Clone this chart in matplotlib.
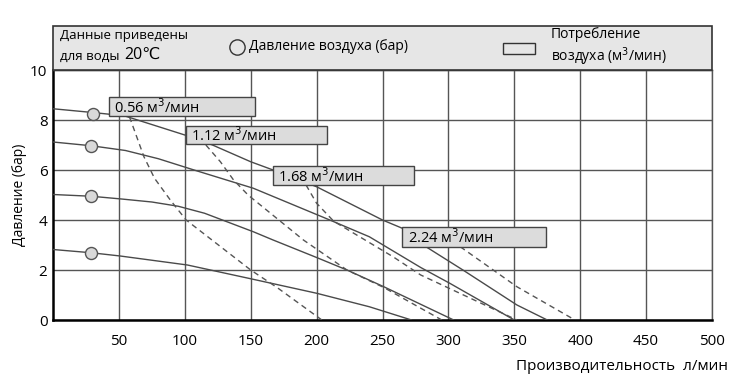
import numpy as np
import matplotlib
matplotlib.use("Agg")
import matplotlib.pyplot as plt
from matplotlib.patches import Rectangle
from matplotlib.lines import Line2D

plt.rcParams['font.family'] = ['Open Sans', 'DejaVu Sans']

# solid curves: pump performance at a given air pressure (bar)
p8_x = [0, 30, 54, 100, 121, 150, 167, 200, 250, 265, 283, 311, 352, 375]
p8_y = [8.45, 8.3, 8.17, 7.4, 7.0, 6.33, 6.0, 5.33, 4.0, 3.67, 2.93, 2.0, 0.6, 0]
p7_x = [0, 29, 55, 80, 107, 152, 210, 240, 279, 301, 350]
p7_y = [7.12, 6.97, 6.78, 6.45, 6.0, 5.27, 4.0, 3.33, 2.1, 1.47, 0]
p5_x = [0, 29, 52, 75, 95, 115, 152, 167, 200, 223, 251, 304]
p5_y = [5.02, 4.95, 4.84, 4.72, 4.55, 4.27, 3.53, 3.2, 2.5, 2.0, 1.33, 0]
p2_x = [0, 29, 51, 102, 150, 200, 240, 272]
p2_y = [2.82, 2.69, 2.56, 2.2, 1.65, 1.07, 0.53, 0]

# circle markers on each pressure curve
marker_x = [30, 29, 29, 29]
marker_y = [8.25, 6.97, 4.95, 2.69]

# dashed curves: air consumption
d056_x = [58, 69, 77, 89, 101, 150, 170, 204]
d056_y = [8.13, 6.53, 5.67, 4.8, 4.0, 2.0, 1.3, 0]
d112_x = [116, 127, 137, 148, 190, 223, 251, 295]
d112_y = [7.0, 6.33, 5.6, 5.0, 3.2, 2.0, 1.3, 0]
d168_x = [192, 200, 213, 258, 279, 352]
d168_y = [5.4, 4.67, 3.95, 2.53, 1.8, 0]
d224_x = [309, 334, 352, 396]
d224_y = [2.93, 2.0, 1.33, 0]

labels = ["0.56", "1.12", "1.68", "2.24"]
# label boxes (x0, x1, y0, y1) in data units
boxes = [(42.5, 153, 8.16, 8.93), (100.7, 207.7, 7.03, 7.78),
         (166.7, 274.2, 5.4, 6.17), (265, 373.8, 2.94, 3.73)]

W, H = 735, 386
fig = plt.figure(figsize=(W / 100, H / 100), dpi=100)

def fx(px):
    return px / W

def fy(py):
    return (H - py) / H

ax = fig.add_axes([fx(53), fy(320), fx(712) - fx(53), fy(70) - fy(320)])
ax.set_xlim(0, 500)
ax.set_ylim(0, 10)
ax.set_xticks(np.arange(50, 501, 50))
ax.set_yticks(np.arange(0, 11, 2))
ax.grid(True, color="#555555", lw=1.0)
ax.set_axisbelow(True)
ax.tick_params(length=0, labelsize=11, pad=10)
ax.tick_params(axis="y", pad=4)
for s in ["left", "bottom"]:
    ax.spines[s].set_linewidth(1.8)
    ax.spines[s].set_color("black")
for s in ["right", "top"]:
    ax.spines[s].set_linewidth(1.0)
    ax.spines[s].set_color("#555555")

solid = dict(color="#4a4a4a", lw=1.0, zorder=3)
for x, y in [(p8_x, p8_y), (p7_x, p7_y), (p5_x, p5_y), (p2_x, p2_y)]:
    ax.plot(x, y, **solid)

dashed = dict(color="#555555", lw=1.0, ls=(0, (4, 3)), zorder=3)
for x, y in [(d056_x, d056_y), (d112_x, d112_y), (d168_x, d168_y), (d224_x, d224_y)]:
    ax.plot(x, y, **dashed)

ax.scatter(marker_x, marker_y, s=75, facecolor="#d9d9d9", edgecolor="#555555",
           linewidth=1.0, zorder=5)

for lab, (x0, x1, y0, y1) in zip(labels, boxes):
    ax.add_patch(Rectangle((x0, y0), x1 - x0, y1 - y0, facecolor="#dcdcdc",
                           edgecolor="#444444", lw=1.0, zorder=6))
    ax.text(x0 + 4, (y0 + y1) / 2 - 0.05, lab + " м$^3$/мин", fontsize=10.5,
            va="center", ha="left", zorder=7)

ax.set_ylabel("Давление (бар)", fontsize=10, labelpad=2)

# header strip
fig.patches.append(Rectangle((fx(53), fy(70)), fx(712) - fx(53), fy(26) - fy(70),
                             transform=fig.transFigure, facecolor="#e6e6e6",
                             edgecolor="#333333", lw=1.2))
fig.text(fx(60), fy(36), "Данные приведены", fontsize=9.5, va="center")
fig.text(fx(60), fy(56), "для воды", fontsize=9.5, va="center")
fig.text(fx(124), fy(55), "20℃", fontsize=11.5, va="center")

fig.add_artist(Line2D([fx(237)], [fy(47)], marker="o", markersize=11,
                      markerfacecolor="none", markeredgecolor="#333333",
                      markeredgewidth=1.0, transform=fig.transFigure))
fig.text(fx(249), fy(47), "Давление воздуха (бар)", fontsize=10, va="center")

fig.patches.append(Rectangle((fx(503), fy(54)), fx(535) - fx(503), fy(43) - fy(54),
                             transform=fig.transFigure, facecolor="#e6e6e6",
                             edgecolor="#333333", lw=1.0))
fig.text(fx(551), fy(35), "Потребление", fontsize=10, va="center")
fig.text(fx(551), fy(57), "воздуха (м$^3$/мин)", fontsize=10, va="center")

fig.text(fx(728), fy(366), "Производительность  л/мин", fontsize=11,
         ha="right", va="center")

fig.savefig("out.png", dpi=100)
plt.close(fig)
